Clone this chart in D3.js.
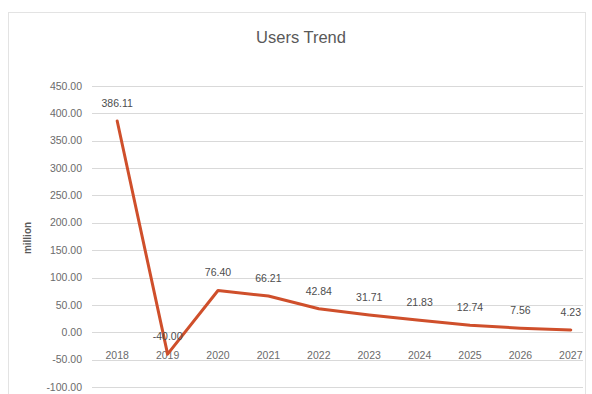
<!DOCTYPE html>
<html>
<head>
<meta charset="utf-8">
<title>Users Trend</title>
<script src="https://d3js.org/d3.v7.min.js"></script>
<style>
  html, body { margin: 0; padding: 0; background: #fff; }
  svg { display: block; font-family: "Liberation Sans", Arial, sans-serif; }
  .grid line { stroke: #d9d9d9; stroke-width: 1; }
  .tick-label { font-size: 10.5px; fill: #6b6b6b; }
  .data-label { font-size: 10.5px; fill: #4d4d4d; text-anchor: middle; }
</style>
</head>
<body>
<div id="chart"></div>
<script>
// values
const years = ["2018", "2019", "2020", "2021", "2022", "2023", "2024", "2025", "2026", "2027"];
const users = [386.11, -40.00, 76.40, 66.21, 42.84, 31.71, 21.83, 12.74, 7.56, 4.23];
const yTicks = [450, 400, 350, 300, 250, 200, 150, 100, 50, 0, -50, -100];

const width = 592, height = 394;
const plot = { left: 92, right: 583, top: 86, bottom: 387 };

const svg = d3.select("#chart").append("svg")
  .attr("width", width)
  .attr("height", height);

// chart area border (cropped at the bottom in the reference)
svg.append("rect")
  .attr("x", 8.5).attr("y", 12.5)
  .attr("width", 577).attr("height", 400)
  .attr("fill", "none")
  .attr("stroke", "#e3e3e3");

const x = d3.scalePoint()
  .domain(years)
  .range([plot.left, plot.left + 50.4 * years.length])
  .padding(0.5);

const y = d3.scaleLinear()
  .domain([-100, 450])
  .range([plot.bottom, plot.top]);

const fmt = v => d3.format(".2f")(v).replace("\u2212", "-");

// gridlines
svg.append("g").attr("class", "grid")
  .selectAll("line")
  .data(yTicks)
  .enter().append("line")
  .attr("x1", plot.left).attr("x2", plot.right)
  .attr("y1", d => Math.round(y(d)) + 0.5)
  .attr("y2", d => Math.round(y(d)) + 0.5);

// y tick labels
svg.append("g")
  .selectAll("text")
  .data(yTicks)
  .enter().append("text")
  .attr("class", "tick-label")
  .attr("x", 82)
  .attr("y", d => y(d))
  .attr("dy", "0.35em")
  .attr("text-anchor", "end")
  .text(d => fmt(d));

// x category labels (sit just below the zero line)
svg.append("g")
  .selectAll("text")
  .data(years)
  .enter().append("text")
  .attr("class", "tick-label")
  .attr("x", d => x(d))
  .attr("y", y(0) + 27)
  .attr("text-anchor", "middle")
  .text(d => d);

// axis title
svg.append("text")
  .attr("transform", "translate(31,238) rotate(-90)")
  .attr("text-anchor", "middle")
  .attr("font-size", "10px")
  .attr("font-weight", "bold")
  .attr("fill", "#595959")
  .text("million");

// title
svg.append("text")
  .attr("x", 301)
  .attr("y", 43)
  .attr("text-anchor", "middle")
  .attr("font-size", "16.5px")
  .attr("fill", "#595959")
  .text("Users Trend");

const points = years.map((yr, i) => ({ year: yr, value: users[i] }));

// line
svg.append("path")
  .datum(points)
  .attr("fill", "none")
  .attr("stroke", "#cf4f2b")
  .attr("stroke-width", 3)
  .attr("stroke-linejoin", "round")
  .attr("stroke-linecap", "round")
  .attr("d", d3.line().x(d => x(d.year)).y(d => y(d.value)));

// data labels
svg.append("g")
  .selectAll("text")
  .data(points)
  .enter().append("text")
  .attr("class", "data-label")
  .attr("x", d => x(d.year))
  .attr("y", d => y(d.value) - 14)
  .text(d => fmt(d.value));
</script>
</body>
</html>
